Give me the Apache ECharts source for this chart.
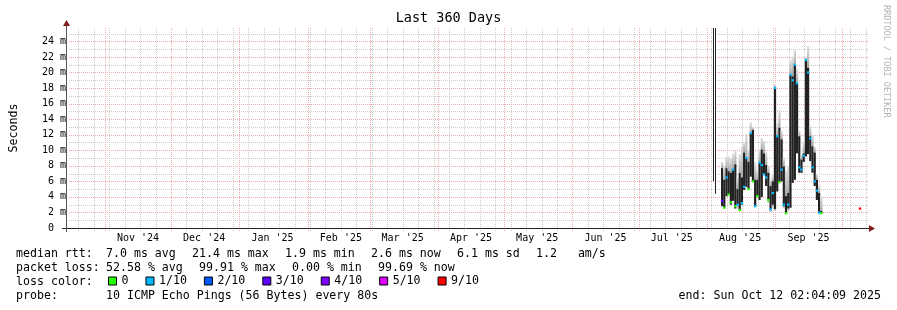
<!DOCTYPE html>
<html><head><meta charset="utf-8">
<script src="https://cdn.jsdelivr.net/npm/echarts@6/dist/echarts.min.js"></script>
<style>html,body{margin:0;padding:0;background:#fff}#c{width:897px;height:310px}</style>
</head><body><div id="c"></div>
<script>
const DAY = 86400000;
const endTime = Date.parse('2025-10-12T02:04:09Z');
const startTime = endTime - 360 * DAY;
const yMax = 25.72; // ms, top of the plot

// tick labels / grid
const monthStarts = ['2024-11-01','2024-12-01','2025-01-01','2025-02-01','2025-03-01','2025-04-01','2025-05-01','2025-06-01','2025-07-01','2025-08-01','2025-09-01','2025-10-01'];
const monthLabels = ["Nov '24","Dec '24","Jan '25","Feb '25","Mar '25","Apr '25","May '25","Jun '25","Jul '25","Aug '25","Sep '25"];
const firstSunday = '2024-10-20';
const yLabelValues = [0,2,4,6,8,10,12,14,16,18,20,22,24];
const yMinorValues = [1,2,3,4,5,6,7,8,9,10,11,12,13,14,15,16,17,18,19,20,21,22,23,24,25];

// daily samples starting at firstDay (ms)
const firstDay = '2025-08-07T20:00:00Z';
const smokeLo  = [2.8,2.6,4.1,4.3,3.0,3.5,2.5,2.5,2.3,3.0,4.9,5.3,5.0,6.6,6.0,2.8,4.1,3.6,4.0,6.9,5.4,3.2,2.0,2.6,2.4,4.7,5.9,6.0,2.5,1.9,2.2,2.6,5.8,6.2,9.6,7.1,7.1,8.5,9.2,9.5,8.6,7.1,5.4,3.6,1.9,1.9];
const blackLo  = [2.8,2.6,4.1,4.3,3.0,3.5,2.5,3.0,2.3,3.0,4.9,5.3,5.0,6.6,6.0,2.8,4.1,3.6,4.0,6.9,5.4,3.6,2.4,3.0,2.4,4.7,5.9,6.0,2.8,1.9,2.5,2.6,5.8,6.2,9.6,7.1,7.1,8.5,9.2,9.5,8.6,7.1,5.4,3.6,1.9,1.9];
const blackHi  = [7.7,6.2,7.7,7.3,7.1,7.5,8.2,5.0,7.1,6.5,9.7,9.0,8.5,12.2,12.6,6.2,6.2,8.4,10.1,9.6,8.1,7.1,5.4,6.0,18.0,11.8,12.9,11.4,7.9,4.1,4.5,19.7,19.5,21.0,18.6,11.8,8.8,9.6,21.6,20.6,11.8,10.5,9.7,6.2,4.5,2.2];
const smokeHi  = [8.5,8.0,9.2,9.2,9.0,9.5,10.0,6.5,9.5,10.5,11.0,12.1,10.0,13.6,13.0,8.5,7.5,10.1,11.6,11.2,9.8,8.0,6.2,6.8,18.5,13.5,15.2,12.5,9.0,7.5,8.0,21.6,22.0,22.9,20.5,12.5,9.5,11.0,22.0,23.4,13.1,12.0,10.5,7.0,5.5,4.1];
const medianVal= [3.5,2.6,6.5,4.3,3.3,7.5,2.8,3.0,2.3,3.2,5.3,9.0,5.0,12.2,6.0,2.8,4.1,8.4,8.1,6.9,6.5,3.6,2.4,4.5,18.0,11.8,5.9,7.5,3.0,1.9,3.0,19.7,19.0,21.0,18.6,7.8,7.5,9.3,21.6,20.0,11.5,7.8,6.0,4.8,2.0,1.9];
const lossCount= [3,0,1,0,0,1,0,1,0,1,1,1,0,1,0,1,0,1,1,1,1,0,1,1,1,1,0,1,1,0,1,1,1,1,1,1,1,1,1,1,1,1,1,1,1,0];

// isolated samples
const earlyTimes = ['2025-08-03T19:00:00Z','2025-08-04T16:00:00Z'];
const earlyLo = [6.0, 4.4];
const earlyHi = [30, 30];
const lateTimes = ['2025-10-09T09:00:00Z'];
const lateMedian = [2.5];
const lateLoss = [9];

const lossLevels = [0,1,2,3,4,5,9];
const lossNames  = ['0','1/10','2/10','3/10','4/10','5/10','9/10'];
const lossColors = ['#26ff00','#00b8ff','#0059ff','#5e00ff','#7e00ff','#dd00ff','#ff0000'];

const FONT = "'DejaVu Sans Mono', monospace";
const t0 = Date.parse(firstDay);
const sampleTimes = blackLo.map((_, i) => t0 + i * DAY);
const monthTimes = monthStarts.map(d => Date.parse(d + 'T00:00:00Z'));
const labelTimes = monthTimes.slice(0, monthLabels.length).map(t => t + 15 * DAY);
const weekTimes = [];
for (let t = Date.parse(firstSunday + 'T00:00:00Z'); t < endTime; t += 7 * DAY) weekTimes.push(t);

function vlineRender(color) {
  return function (params, api) {
    const x = Math.round(api.coord([api.value(0), 0])[0]) + 0.5;
    const yb = api.coord([startTime, 0])[1];
    const yt = api.coord([startTime, yMax])[1];
    return {type: 'line', shape: {x1: x, y1: yt, x2: x, y2: yb + 3},
            style: {stroke: color, lineWidth: 1, lineDash: [1, 1]}};
  };
}
function hlineRender(color) {
  return function (params, api) {
    const y = Math.round(api.coord([startTime, api.value(1)])[1]) + 0.5;
    const xl = api.coord([startTime, 0])[0];
    const xr = api.coord([endTime, 0])[0];
    return {type: 'line', shape: {x1: xl - 3, y1: y, x2: xr + 2, y2: y},
            style: {stroke: color, lineWidth: 1, lineDash: [1, 1]}};
  };
}
const smokeGrad = new echarts.graphic.LinearGradient(0, 0, 0, 1, [{offset: 0, color: '#e0e0e0'}, {offset: 1, color: '#a6a6a6'}]);
const smokeGradLow = new echarts.graphic.LinearGradient(0, 0, 0, 1, [{offset: 0, color: '#a6a6a6'}, {offset: 1, color: '#dadada'}]);
function smokeRender(params, api) {
  const t = api.value(0);
  const w = api.size([DAY, 0])[0];
  const x = api.coord([t, 0])[0] - w / 2;
  const yv = i => api.coord([t, api.value(i)])[1];
  const ySL = yv(1), yBL = yv(2), yBH = yv(3), ySH = yv(4);
  return {type: 'group', children: [
    {type: 'rect', shape: {x: x, y: ySH, width: w, height: yBH - ySH}, style: {fill: smokeGrad}},
    {type: 'rect', shape: {x: x, y: yBL, width: w, height: ySL - yBL}, style: {fill: smokeGradLow}},
    {type: 'rect', shape: {x: x, y: yBH, width: w, height: Math.max(1, yBL - yBH)}, style: {fill: '#222'}}
  ]};
}
function earlyRender(params, api) {
  const t = api.value(0);
  const x = Math.round(api.coord([t, 0])[0]);
  const yL = api.coord([t, api.value(1)])[1];
  const yH = api.coord([t, api.value(2)])[1];
  return {type: 'rect', shape: {x: x, y: yH, width: 1, height: yL - yH}, style: {fill: '#222'}};
}

const dotSeries = lossLevels.map((lv, k) => {
  const data = [];
  lossCount.forEach((c, i) => { if (c === lv) data.push([sampleTimes[i], medianVal[i]]); });
  lateLoss.forEach((c, i) => { if (c === lv) data.push([Date.parse(lateTimes[i]), lateMedian[i]]); });
  return {name: lossNames[k], type: 'scatter', symbol: 'rect', symbolSize: [2.4, 2.2],
          itemStyle: {color: lossColors[k], opacity: 1}, data: data, z: 4, silent: true};
});

const legendRows = [
  {y: 254, items: [[16, 'median rtt:'], [106, '7.0 ms avg'], [192, '21.4 ms max'], [285, '1.9 ms min'], [371, '2.6 ms now'], [457, '6.1 ms sd'], [536, '1.2   am/s']]},
  {y: 268, items: [[16, 'packet loss:'], [106, '52.58 % avg'], [199, '99.91 % max'], [292, '0.00 % min'], [378, '99.69 % now']]},
  {y: 282, items: [[16, 'loss color:']]},
  {y: 296, items: [[16, 'probe:'], [106, '10 ICMP Echo Pings (56 Bytes) every 80s']]}
];
const graphics = [];
legendRows.forEach(r => r.items.forEach(it => graphics.push({type: 'text', x: it[0], y: r.y,
  style: {text: it[1], fontFamily: FONT, fontSize: 11.6, fill: '#000', textAlign: 'left', textVerticalAlign: 'middle', align: 'left', verticalAlign: 'middle'}})));
graphics.push({type: 'text', x: 881, y: 296, style: {text: 'end: Sun Oct 12 02:04:09 2025', fontFamily: FONT, fontSize: 11.6, fill: '#000', textAlign: 'right', align: 'right', textVerticalAlign: 'middle', verticalAlign: 'middle'}});
graphics.push({type: 'text', x: 886, y: 5, rotation: -Math.PI / 2, style: {text: 'RRDTOOL / TOBI OETIKER', fontFamily: FONT, fontSize: 8.5, fill: '#b4b4b4', textAlign: 'left', align: 'left', textVerticalAlign: 'middle', verticalAlign: 'middle'}});
// axis extensions and arrows
graphics.push({type: 'line', shape: {x1: 62, y1: 228.5, x2: 869, y2: 228.5}, style: {stroke: '#222', lineWidth: 1}, z: 10});
graphics.push({type: 'line', shape: {x1: 66.5, y1: 232, x2: 66.5, y2: 25}, style: {stroke: '#555', lineWidth: 1}, z: 10});
graphics.push({type: 'polygon', shape: {points: [[869, 225], [869, 232], [875, 228.5]]}, style: {fill: '#7f1f1f'}, z: 10});
graphics.push({type: 'polygon', shape: {points: [[63, 26], [70, 26], [66.5, 20]]}, style: {fill: '#7f1f1f'}, z: 10});

const option = {
  animation: false,
  backgroundColor: '#fff',
  title: {text: 'Last 360 Days', left: 'center', top: 11, padding: 0,
          textStyle: {fontFamily: FONT, fontSize: 13.5, fontWeight: 'normal', color: '#000'}},
  grid: {left: 66, top: 28, width: 800, height: 200},
  xAxis: {type: 'value', min: startTime, max: endTime,
          axisLine: {show: false}, axisTick: {show: false}, splitLine: {show: false},
          axisLabel: {customValues: labelTimes, formatter: v => monthLabels[labelTimes.indexOf(v)] || '',
                      fontFamily: FONT, fontSize: 10, color: '#000', margin: 5}},
  yAxis: {type: 'value', min: 0, max: yMax, name: 'Seconds', nameLocation: 'middle', nameGap: 52,
          nameTextStyle: {fontFamily: FONT, fontSize: 11.6, color: '#000'},
          axisLine: {show: false}, axisTick: {show: false}, splitLine: {show: false},
          axisLabel: {customValues: yLabelValues, formatter: v => v === 0 ? '0  ' : v + ' m',
                      fontFamily: FONT, fontSize: 10, color: '#000', margin: 6}},
  legend: {left: 108, top: 275, padding: 0, itemGap: 17, itemWidth: 8, itemHeight: 8, icon: 'rect',
           selectedMode: false, data: lossNames,
           itemStyle: {borderColor: '#000', borderWidth: 1, opacity: 1},
           textStyle: {fontFamily: FONT, fontSize: 11.6, color: '#000'}},
  series: [
    {type: 'custom', name: 'minorH', renderItem: hlineRender('#cccccc'), data: yMinorValues.map(v => [startTime, v]), z: 1, silent: true},
    {type: 'custom', name: 'weekV', renderItem: vlineRender('#cccccc'), data: weekTimes.map(t => [t, 0]), z: 1, silent: true},
    {type: 'custom', name: 'majorH', renderItem: hlineRender('#eeaaaa'), data: yLabelValues.filter(v => v > 0).map(v => [startTime, v]), z: 1, silent: true},
    {type: 'custom', name: 'monthV', renderItem: vlineRender('#eeaaaa'), data: monthTimes.map(t => [t, 0]), z: 1, silent: true},
    {type: 'custom', name: 'smoke', renderItem: smokeRender, clip: true, z: 2, silent: true,
     data: sampleTimes.map((t, i) => [t, smokeLo[i], blackLo[i], blackHi[i], smokeHi[i]]),
     encode: {x: 0, y: [1, 2, 3, 4]}},
    {type: 'custom', name: 'early', renderItem: earlyRender, clip: true, z: 2, silent: true,
     data: earlyTimes.map((t, i) => [Date.parse(t), earlyLo[i], earlyHi[i]]),
     encode: {x: 0, y: [1, 2]}}
  ].concat(dotSeries),
  graphic: graphics
};
const chart = echarts.init(document.getElementById('c'), null, {renderer: 'canvas', width: 897, height: 310});
chart.setOption(option);
</script></body></html>
